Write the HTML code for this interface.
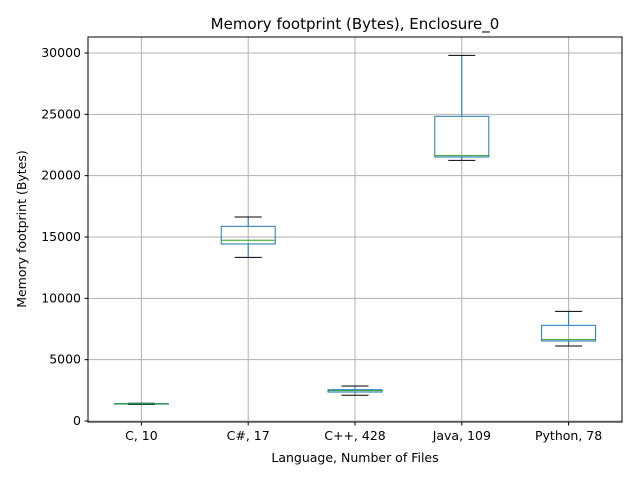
<!DOCTYPE html>
<html><head><meta charset="utf-8"><style>
body{margin:0;background:#fff;font-family:"DejaVu Sans","Liberation Sans",sans-serif}
</style></head><body>
<svg id="chart" width="640" height="480" xmlns="http://www.w3.org/2000/svg" font-family="DejaVu Sans, Liberation Sans, sans-serif">
<rect width="640" height="480" fill="#fff"/>
</svg>
<script>
const categories = ["C, 10","C#, 17","C++, 428","Java, 109","Python, 78"];
const whiskerLow = [1350,13340,2100,21250,6110];
const q1 = [1380,14430,2360,21520,6520];
const medians = [1400,14730,2480,21630,6630];
const q3 = [1420,15870,2550,24840,7800];
const whiskerHigh = [1450,16630,2850,29810,8940];
const yTicks = [0,5000,10000,15000,20000,25000,30000];

const svg = document.getElementById('chart');
const NS = 'http://www.w3.org/2000/svg';
const L=88,R=622,T=37,B=422;
const y = v => 421 - v*0.012267;
const x = i => L + (R-L)*(i+0.5)/categories.length;
function mk(tag, attrs, parent){const e=document.createElementNS(NS,tag);for(const k in attrs)e.setAttribute(k,attrs[k]);(parent||svg).appendChild(e);return e;}

// grid
yTicks.forEach(v=>{
  const g=mk('line',{x1:L,x2:R,y1:y(v),y2:y(v),stroke:'#b0b0b0','stroke-width':1});
  
  
  mk('line',{x1:L-3.5,x2:L,y1:y(v),y2:y(v),stroke:'#000'});
  const t=mk('text',{x:L-7,y:y(v)+4,'text-anchor':'end','font-size':12.5});
  t.textContent=v;
  
  
});
categories.forEach((c,i)=>{
  const g=mk('line',{x1:x(i),x2:x(i),y1:T,y2:B,stroke:'#b0b0b0','stroke-width':1});
  
  
  mk('line',{x1:x(i),x2:x(i),y1:B,y2:B+3.5,stroke:'#000'});
  const t=mk('text',{x:x(i),y:B+18,'text-anchor':'middle','font-size':12.5});
  t.textContent=c;
  
  
});
// boxes
const bw=54, cw=27;
categories.forEach((c,i)=>{
  const g=mk('g',{});
  
  
  const cx=x(i);
  mk('line',{x1:cx,x2:cx,y1:y(q3[i]),y2:y(whiskerHigh[i]),stroke:'#1f77b4','stroke-width':1},g);
  mk('line',{x1:cx,x2:cx,y1:y(q1[i]),y2:y(whiskerLow[i]),stroke:'#1f77b4','stroke-width':1},g);
  mk('line',{x1:cx-cw/2,x2:cx+cw/2,y1:y(whiskerHigh[i]),y2:y(whiskerHigh[i]),stroke:'#000','stroke-width':1},g);
  mk('line',{x1:cx-cw/2,x2:cx+cw/2,y1:y(whiskerLow[i]),y2:y(whiskerLow[i]),stroke:'#000','stroke-width':1},g);
  mk('rect',{x:cx-bw/2,y:y(q3[i]),width:bw,height:Math.max(0.5,y(q1[i])-y(q3[i])),fill:'none',stroke:'#1f77b4','stroke-width':1},g);
  mk('line',{x1:cx-bw/2,x2:cx+bw/2,y1:y(medians[i]),y2:y(medians[i]),stroke:'#2ca02c','stroke-width':1},g);
});
// frame
mk('rect',{x:L,y:T,width:R-L,height:B-T,fill:'none',stroke:'#000','stroke-width':1});
let t=mk('text',{x:(L+R)/2,y:29,'text-anchor':'middle','font-size':15});t.textContent='Memory footprint (Bytes), Enclosure_0';


t=mk('text',{x:(L+R)/2,y:462,'text-anchor':'middle','font-size':12.5});t.textContent='Language, Number of Files';


t=mk('text',{x:0,y:0,'text-anchor':'middle','font-size':12.5,transform:'translate(26,229) rotate(-90)'});t.textContent='Memory footprint (Bytes)';


</script>
</body></html>
